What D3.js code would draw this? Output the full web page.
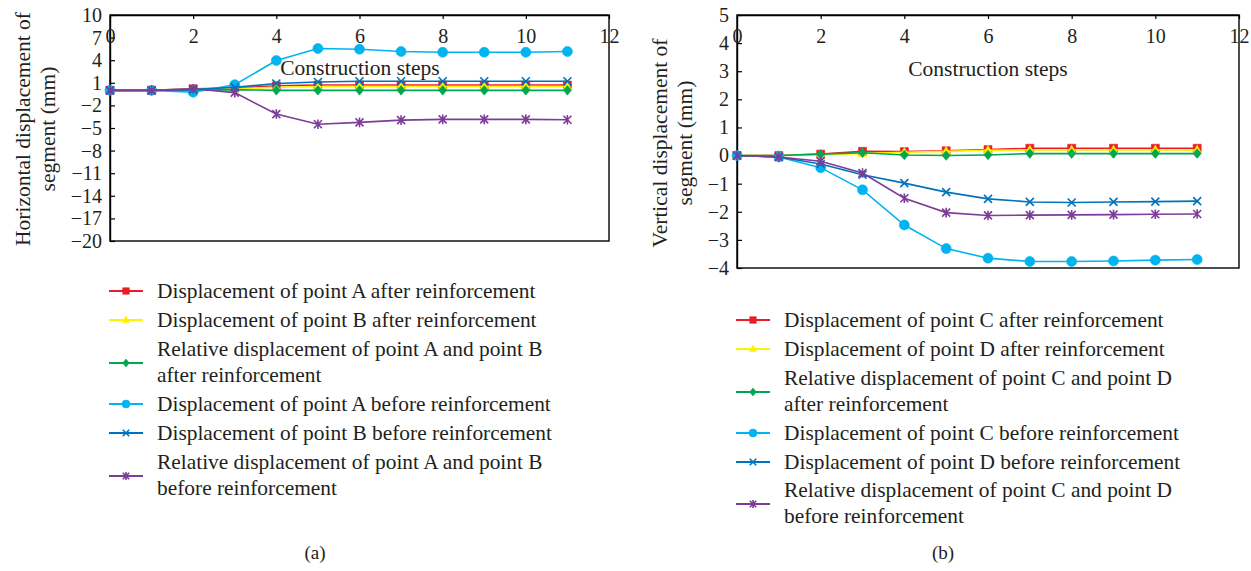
<!DOCTYPE html>
<html>
<head>
<meta charset="utf-8">
<script src="https://cdn.jsdelivr.net/npm/d3@7"></script>
<style>
  html, body { margin: 0; padding: 0; background: #fff; }
  svg { display: block; }
  text { font-family: "Liberation Serif", "Times New Roman", serif; fill: #231f20; }
</style>
</head>
<body>
<svg id="chart" width="1251" height="571"></svg>
<script>
// ---------- data ----------
const steps = [0, 1, 2, 3, 4, 5, 6, 7, 8, 9, 10, 11];

// (a) horizontal displacement (mm)
const hA_after   = [0, 0, 0.2, 0.3, 0.6, 0.7, 0.7, 0.7, 0.7, 0.7, 0.7, 0.7];
const hB_after   = [0, 0, 0.1, 0.2, 0.4, 0.5, 0.5, 0.5, 0.5, 0.5, 0.5, 0.5];
const hRel_after = [0, 0, 0, 0.1, 0, 0, 0, 0, 0, 0, 0, 0];
const hA_before  = [0, 0, -0.25, 0.75, 3.95, 5.55, 5.45, 5.15, 5.05, 5.05, 5.05, 5.15];
const hB_before  = [0, 0, 0.1, 0.4, 0.9, 1.1, 1.2, 1.2, 1.2, 1.2, 1.2, 1.2];
const hRel_before= [0, 0, 0.2, -0.3, -3.15, -4.5, -4.25, -3.95, -3.85, -3.85, -3.85, -3.9];

// (b) vertical displacement (mm)
const vC_after   = [0, 0, 0.05, 0.15, 0.14, 0.17, 0.21, 0.26, 0.26, 0.26, 0.26, 0.26];
const vD_after   = [0, 0, 0.03, 0.07, 0.12, 0.15, 0.19, 0.2, 0.2, 0.2, 0.2, 0.2];
const vRel_after = [0, 0, 0.05, 0.1, 0.02, 0, 0.02, 0.07, 0.07, 0.07, 0.07, 0.07];
const vC_before  = [0, -0.05, -0.43, -1.22, -2.47, -3.31, -3.65, -3.77, -3.77, -3.75, -3.72, -3.7];
const vD_before  = [0, -0.05, -0.3, -0.68, -0.98, -1.3, -1.54, -1.65, -1.67, -1.65, -1.64, -1.62];
const vRel_before= [0, -0.05, -0.2, -0.62, -1.52, -2.03, -2.13, -2.12, -2.11, -2.1, -2.09, -2.08];

const xTicks = [0, 2, 4, 6, 8, 10, 12];
const yTicksA = [-20, -17, -14, -11, -8, -5, -2, 1, 4, 7, 10];
const yTicksB = [-4, -3, -2, -1, 0, 1, 2, 3, 4, 5];

const legendA = [
  ["Displacement of point A after reinforcement"],
  ["Displacement of point B after reinforcement"],
  ["Relative displacement of point A and point B", "after reinforcement"],
  ["Displacement of point A before reinforcement"],
  ["Displacement of point B before reinforcement"],
  ["Relative displacement of point A and point B", "before reinforcement"]
];
const legendB = [
  ["Displacement of point C after reinforcement"],
  ["Displacement of point D after reinforcement"],
  ["Relative displacement of point C and point D", "after reinforcement"],
  ["Displacement of point C before reinforcement"],
  ["Displacement of point D before reinforcement"],
  ["Relative displacement of point C and point D", "before reinforcement"]
];

const colors  = ["#ed1c24", "#fff200", "#00a651", "#00b4ef", "#0072bc", "#7c3c98"];
const markers = ["square", "triangle", "diamond", "circle", "x", "asterisk"];

// ---------- drawing ----------
const svg = d3.select("#chart");

function markerPath(type, s) {
  const p = d3.path();
  if (type === "square") { p.rect(-s/2, -s/2, s, s); }
  else if (type === "triangle") { p.moveTo(0, -s*0.6); p.lineTo(s*0.55, s*0.4); p.lineTo(-s*0.55, s*0.4); p.closePath(); }
  else if (type === "diamond") { p.moveTo(0, -s*0.6); p.lineTo(s*0.5, 0); p.lineTo(0, s*0.6); p.lineTo(-s*0.5, 0); p.closePath(); }
  else if (type === "circle") { p.arc(0, 0, s/2, 0, 2*Math.PI); }
  else if (type === "x") { const h = s/2; p.moveTo(-h,-h); p.lineTo(h,h); p.moveTo(h,-h); p.lineTo(-h,h); }
  else if (type === "asterisk") { const h = s/2; p.moveTo(-h,-h); p.lineTo(h,h); p.moveTo(h,-h); p.lineTo(-h,h); p.moveTo(0,-h*1.2); p.lineTo(0,h*1.2); }
  return p.toString();
}
function drawMarker(g, type, color, s) {
  const stroked = (type === "x" || type === "asterisk");
  return g.append("path")
    .attr("d", markerPath(type, s))
    .attr("fill", stroked ? "none" : color)
    .attr("stroke", color)
    .attr("stroke-width", stroked ? 1.6 : 0.6);
}

function panel(cfg) {
  const x = d3.scaleLinear().domain([0, 12]).range([cfg.left, cfg.right]);
  const y = d3.scaleLinear().domain(cfg.yDomain).range([cfg.bottom, cfg.top]);
  const g = svg.append("g");

  // frame
  g.append("rect").attr("x", cfg.left).attr("y", cfg.top)
    .attr("width", cfg.right - cfg.left).attr("height", cfg.bottom - cfg.top)
    .attr("fill", "none").attr("stroke", "#000").attr("stroke-width", 1.4);

  // y axis (ticks inward)
  const ya = g.append("g").attr("transform", `translate(${cfg.left},0)`)
    .call(d3.axisLeft(y).tickValues(cfg.yTicks).tickSizeInner(-5).tickSizeOuter(0).tickPadding(8).tickFormat(d3.format("d")));
  ya.select(".domain").attr("stroke", "#000").attr("stroke-width", 1.4);
  ya.selectAll(".tick line").attr("stroke", "#000").attr("stroke-width", 1.2);
  ya.selectAll(".tick text").attr("font-size", 20).attr("font-family", "Liberation Serif").attr("fill", "#231f20");

  // x axis at the top, labels below the top line
  const xa = g.append("g").attr("transform", `translate(0,${cfg.top})`)
    .call(d3.axisBottom(x).tickValues(xTicks).tickSizeInner(4).tickSizeOuter(0).tickPadding(10).tickFormat(d3.format("d")));
  xa.select(".domain").attr("stroke", "#000").attr("stroke-width", 1.4);
  xa.selectAll(".tick line").attr("stroke", "#000").attr("stroke-width", 1.2);
  xa.selectAll(".tick text").attr("font-size", 20).attr("font-family", "Liberation Serif").attr("fill", "#231f20");

  // x-axis title
  g.append("text").attr("x", cfg.xTitleX).attr("y", cfg.xTitleY)
    .attr("text-anchor", "middle").attr("font-size", 21.5).text("Construction steps");

  // y-axis title (two lines)
  cfg.yTitle.forEach((t, i) => {
    g.append("text")
      .attr("transform", `translate(${cfg.yTitleX[i]},${cfg.yTitleY}) rotate(-90)`)
      .attr("text-anchor", "middle").attr("dy", "0.35em").attr("font-size", 21.5).text(t);
  });

  // series
  const line = d3.line().x((d, i) => x(steps[i])).y(d => y(d));
  cfg.series.forEach((vals, si) => {
    g.append("path").datum(vals).attr("d", line)
      .attr("fill", "none").attr("stroke", colors[si]).attr("stroke-width", 1.6);
    const sz = markers[si] === "circle" ? 10 : 8;
    vals.forEach((v, i) => {
      const m = g.append("g").attr("transform", `translate(${x(steps[i])},${y(v)})`);
      drawMarker(m, markers[si], colors[si], sz);
    });
  });

  // legend
  cfg.legend.forEach((lines, li) => {
    const rowY = cfg.legendY[li];
    const n = lines.length;
    const midY = n === 1 ? rowY : rowY + cfg.legendLine / 2 + 1;
    g.append("line").attr("x1", cfg.legendX).attr("x2", cfg.legendX + 34)
      .attr("y1", midY).attr("y2", midY).attr("stroke", colors[li]).attr("stroke-width", 2.2);
    const m = g.append("g").attr("transform", `translate(${cfg.legendX + 17},${midY})`);
    drawMarker(m, markers[li], colors[li], markers[li] === "circle" ? 8 : 6.5);
    lines.forEach((t, k) => {
      g.append("text").attr("x", cfg.legendX + 48).attr("y", rowY + k * cfg.legendLine)
        .attr("dy", "0.35em").attr("font-size", 21.4).text(t);
    });
  });

  // caption
  svg.append("text").attr("x", cfg.capX).attr("y", 552).attr("dy", "0.35em")
    .attr("text-anchor", "middle").attr("font-size", 19).text(cfg.caption);
}

panel({
  left: 110, right: 609, top: 15, bottom: 241,
  yDomain: [-20, 10], yTicks: yTicksA,
  series: [hA_after, hB_after, hRel_after, hA_before, hB_before, hRel_before],
  xTitleX: 360, xTitleY: 75,
  yTitle: ["Horizontal displacement of", "segment (mm)"], yTitleX: [22, 47], yTitleY: 129,
  legend: legendA, legendX: 109, legendY: [291, 320, 349, 404, 433, 462], legendLine: 26,
  capX: 315, caption: "(a)"
});

panel({
  left: 737, right: 1239, top: 15, bottom: 268,
  yDomain: [-4, 5], yTicks: yTicksB,
  series: [vC_after, vD_after, vRel_after, vC_before, vD_before, vRel_before],
  xTitleX: 988, xTitleY: 76,
  yTitle: ["Vertical displacement of", "segment (mm)"], yTitleX: [659, 684], yTitleY: 143,
  legend: legendB, legendX: 736, legendY: [320, 349, 378, 433, 462, 490], legendLine: 26,
  capX: 943, caption: "(b)"
});
</script>
</body>
</html>
